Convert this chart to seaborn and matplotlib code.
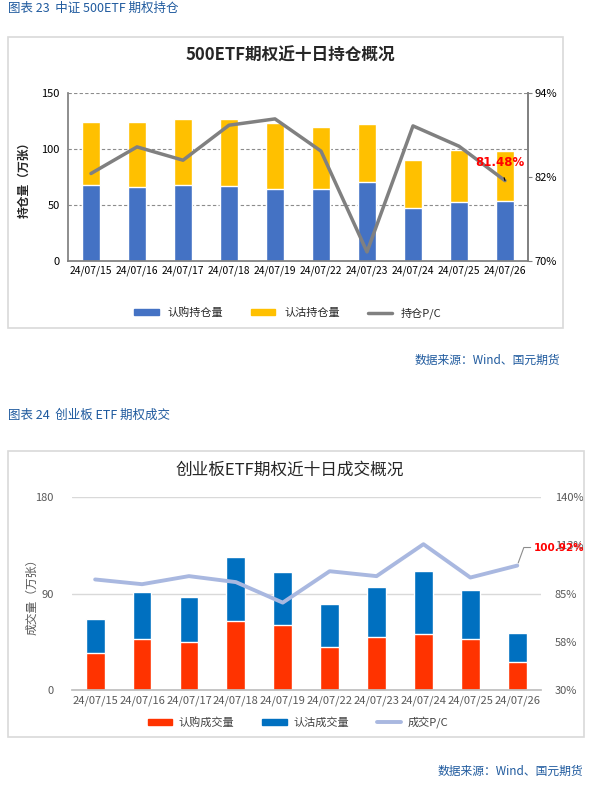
import numpy as np
import pandas as pd
import matplotlib.pyplot as plt
import seaborn as sns
from matplotlib.patches import Rectangle, Patch
from matplotlib.lines import Line2D

dates = ["24/07/15", "24/07/16", "24/07/17", "24/07/18", "24/07/19",
         "24/07/22", "24/07/23", "24/07/24", "24/07/25", "24/07/26"]

# chart 1: 500ETF open interest (10k contracts) and P/C (%)
oi_call = [68.0, 66.2, 68.0, 67.0, 64.4, 64.4, 70.7, 47.4, 52.8, 53.7]
oi_put = [56.3, 58.1, 59.0, 60.0, 59.0, 55.5, 51.8, 42.9, 46.5, 44.7]
oi_pc = [82.5, 86.3, 84.4, 89.4, 90.3, 85.7, 71.3, 89.3, 86.4, 81.48]

# chart 2: ChiNext ETF volume (10k contracts) and P/C (%)
vol_call = [34.4, 47.5, 44.7, 64.2, 60.5, 40.0, 49.3, 52.4, 47.5, 26.1]
vol_put = [31.7, 43.7, 41.9, 59.9, 49.4, 40.1, 46.6, 58.4, 45.6, 27.0]
vol_pc = [93.0, 90.3, 94.9, 91.5, 79.8, 97.7, 94.9, 113.1, 94.1, 100.92]

sns.set_theme(style="white")
plt.rcParams['font.family'] = ['Noto Sans CJK SC', 'DejaVu Sans']
plt.rcParams['axes.unicode_minus'] = False

W, H = 598, 786
fig = plt.figure(figsize=(W / 100, H / 100), dpi=100)


def box(x0, y0, x1, y1):
    return [x0 / W, 1 - y1 / H, (x1 - x0) / W, (y1 - y0) / H]


def fy(y):
    return 1 - y / H


cap_color = "#1F5A9E"
fig.text(8 / W, fy(8), "图表 23  中证 500ETF 期权持仓", fontsize=9, color=cap_color, va="center")
fig.text(8 / W, fy(415), "图表 24  创业板 ETF 期权成交", fontsize=9, color=cap_color, va="center")
fig.text(560 / W, fy(360), "数据来源：Wind、国元期货", fontsize=8.5, color=cap_color, ha="right", va="center")
fig.text(583 / W, fy(771), "数据来源：Wind、国元期货", fontsize=8.5, color=cap_color, ha="right", va="center")

for b in [box(8, 37, 563, 328), box(8, 451, 584, 737)]:
    fig.patches.append(Rectangle((b[0], b[1]), b[2], b[3], transform=fig.transFigure,
                                 fill=False, edgecolor="#d9d9d9", linewidth=1.2))

# ---------------- chart 1 ----------------
df1 = pd.DataFrame({"date": dates, "call": oi_call, "put": oi_put, "pc": oi_pc})
df1["total"] = df1["call"] + df1["put"]
x = np.arange(len(dates))

ax1 = fig.add_axes(box(68, 93, 528, 261))
sns.barplot(data=df1, x="date", y="total", color="#FFC000", width=0.41, saturation=1, ax=ax1)
sns.barplot(data=df1, x="date", y="call", color="#4472C4", width=0.41, saturation=1, ax=ax1)
ax1.set_ylim(0, 150)
ax1.set_yticks([0, 50, 100, 150])
ax1.set_xlim(-0.5, len(dates) - 0.5)
ax1.set_xlabel("")
ax1.set_ylabel("持仓量（万张）", fontsize=8.5, fontweight="bold")
ax1.yaxis.set_label_coords((31 - 68) / 460, 0.5)
ax1.grid(axis="y", linestyle=(0, (3, 2)), color="#8c8c8c", linewidth=0.8)
ax1.set_axisbelow(True)
ax1.tick_params(axis="y", labelsize=8, colors="black", length=0, pad=6)
ax1.tick_params(axis="x", labelsize=7.4, colors="black", length=0, pad=3)
ax1.spines["top"].set_visible(False)
for s in ["left", "bottom", "right"]:
    ax1.spines[s].set_color("#808080")

ax1r = ax1.twinx()
sns.lineplot(x=x, y=df1["pc"], color="#808080", linewidth=2.5, ax=ax1r)
ax1r.set_ylim(70, 94)
ax1r.set_yticks([70, 82, 94])
ax1r.set_yticklabels(["70%", "82%", "94%"])
ax1r.set_ylabel("")
ax1r.grid(False)
ax1r.tick_params(axis="y", labelsize=8, labelcolor="black", color="#808080", length=3, width=0.8, pad=2)
for s in ["top", "left", "bottom"]:
    ax1r.spines[s].set_visible(False)
ax1r.spines["right"].set_color("#808080")
ax1r.annotate(f"{oi_pc[-1]:.2f}%", xy=(x[-1], oi_pc[-1]), xytext=(-4, 13), textcoords="offset points",
              ha="center", va="center", fontsize=8.5, fontweight="bold", color="red",
              family=["DejaVu Sans"],
              arrowprops=dict(arrowstyle="-", color="black", lw=0.8, shrinkA=4, shrinkB=0))

fig.text(290 / W, fy(56), "500ETF期权近十日持仓概况", fontsize=12, fontweight="bold", ha="center", va="center")

leg1 = [Patch(color="#4472C4", label="认购持仓量"),
        Patch(color="#FFC000", label="认沽持仓量"),
        Line2D([], [], color="#808080", linewidth=2.5, label="持仓P/C")]
fig.legend(handles=leg1, loc="center", bbox_to_anchor=(288 / W, fy(313)), ncol=3, frameon=False,
           fontsize=8, handlelength=2.2, handleheight=0.45, columnspacing=2.5, handletextpad=0.8)

# ---------------- chart 2 ----------------
df2 = pd.DataFrame({"date": dates, "call": vol_call, "put": vol_put, "pc": vol_pc})
df2["total"] = df2["call"] + df2["put"]

ax2 = fig.add_axes(box(71.7, 497, 540.7, 690))
sns.barplot(data=df2, x="date", y="total", color="#0070C0", width=0.4, saturation=1, ax=ax2)
sns.barplot(data=df2, x="date", y="call", color="#FF3300", width=0.4, saturation=1, ax=ax2)
ax2.set_ylim(0, 180)
ax2.set_yticks([0, 90, 180])
ax2.set_xlim(-0.5, len(dates) - 0.5)
ax2.set_xlabel("")
ax2.set_ylabel("成交量（万张）", fontsize=8.5, color="#595959")
ax2.yaxis.set_label_coords((38 - 71.7) / 469, 0.5)
ax2.grid(axis="y", color="#d9d9d9", linewidth=1)
ax2.set_axisbelow(True)
ax2.tick_params(axis="y", labelsize=8, colors="#595959", length=0, pad=13)
ax2.tick_params(axis="x", labelsize=8, colors="#595959", length=0, pad=4)
for s in ["top", "left", "right"]:
    ax2.spines[s].set_visible(False)
ax2.spines["bottom"].set_color("#bfbfbf")

ax2r = ax2.twinx()
sns.lineplot(x=x, y=df2["pc"], color="#A9B8E0", linewidth=2.8, ax=ax2r)
ax2r.set_ylim(30, 140)
ax2r.set_yticks([30, 57.5, 85, 112.5, 140])
ax2r.set_yticklabels(["30%", "58%", "85%", "113%", "140%"])
ax2r.set_ylabel("")
ax2r.grid(False)
ax2r.tick_params(axis="y", labelsize=8, colors="#595959", length=0, pad=10)
for s in ["top", "left", "right", "bottom"]:
    ax2r.spines[s].set_visible(False)
ax2r.annotate(f"{vol_pc[-1]:.2f}%", xy=(x[-1], vol_pc[-1]), xytext=(12, 13), textcoords="offset points",
              ha="left", va="center", fontsize=7.5, fontweight="bold", color="red",
              family=["DejaVu Sans"],
              arrowprops=dict(arrowstyle="-", color="#8c8c8c", lw=0.8, shrinkA=0, shrinkB=2,
                              relpos=(0, 0.5), connectionstyle="angle,angleA=0,angleB=70,rad=0"))

fig.text(290 / W, fy(470), "创业板ETF期权近十日成交概况", fontsize=12, ha="center", va="center")

leg2 = [Patch(color="#FF3300", label="认购成交量"),
        Patch(color="#0070C0", label="认沽成交量"),
        Line2D([], [], color="#A9B8E0", linewidth=2.8, label="成交P/C")]
fig.legend(handles=leg2, loc="center", bbox_to_anchor=(298 / W, fy(722)), ncol=3, frameon=False,
           fontsize=8, handlelength=2.2, handleheight=0.45, columnspacing=2.5, handletextpad=0.6,
           labelcolor="#404040")

fig.savefig("out.png", dpi=100)
